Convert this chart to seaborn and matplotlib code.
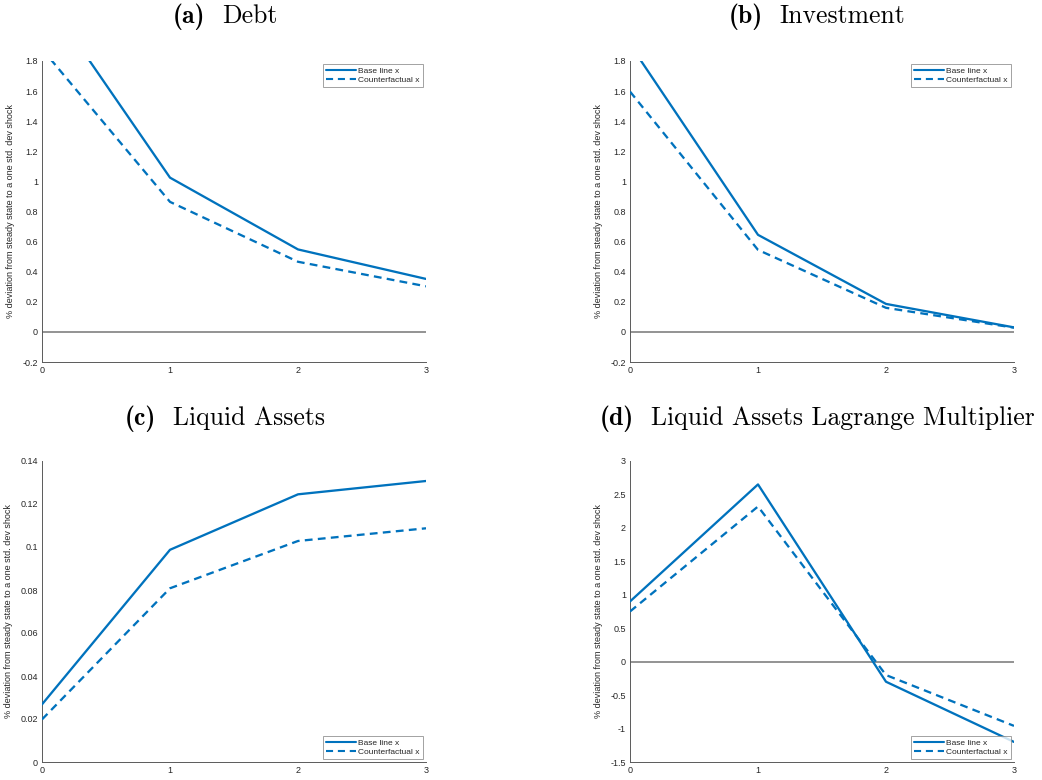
import numpy as np
import pandas as pd
import matplotlib
matplotlib.use("Agg")
import matplotlib.pyplot as plt
import seaborn as sns
from matplotlib.ticker import FuncFormatter, MultipleLocator
from matplotlib.lines import Line2D
from matplotlib.offsetbox import TextArea, HPacker, AnnotationBbox

# ---- data ----
periods = [0, 1, 2, 3]
series_names = ["Base line x", "Counterfactual x"]
titles_bold = ["(a)", "(b)", "(c)", "(d)"]
titles_text = ["Debt", "Investment", "Liquid Assets", "Liquid Assets Lagrange Multiplier"]

debt_base = [2.26, 1.025, 0.548, 0.352]
debt_cf = [1.88, 0.864, 0.466, 0.303]
inv_base = [1.91, 0.645, 0.186, 0.030]
inv_cf = [1.597, 0.545, 0.160, 0.028]
liq_base = [0.0268, 0.0987, 0.1245, 0.1307]
liq_cf = [0.0198, 0.0808, 0.1028, 0.1087]
lm_base = [0.90, 2.65, -0.30, -1.20]
lm_cf = [0.75, 2.32, -0.20, -0.96]

ylims = [(-0.2, 1.8), (-0.2, 1.8), (0.0, 0.14), (-1.5, 3.0)]
ysteps = [0.2, 0.2, 0.02, 0.5]
legend_locs = ["upper right", "upper right", "lower right", "lower right"]
ylabel = "% deviation from steady state to a one std. dev shock"

panels = [(debt_base, debt_cf), (inv_base, inv_cf), (liq_base, liq_cf), (lm_base, lm_cf)]

# ---- style ----
sns.set_theme(style="white")
plt.rcParams["font.family"] = ["Liberation Sans", "DejaVu Sans"]

blue = "#0072BD"
axis_col = "#5a5a5a"
text_col = "#262626"

fig = plt.figure(figsize=(10.42, 7.8), dpi=100)
W, H = 1042.0, 780.0
boxes = [(42, 61, 426, 362), (630, 61, 1014, 362), (42, 461, 426, 762), (630, 461, 1014, 762)]
title_y = [17, 17, 419, 419]
title_x = [225, 817, 225, 817]

for i, (base, cf) in enumerate(panels):
    l, t, r, b = boxes[i]
    ax = fig.add_axes([l / W, 1 - b / H, (r - l) / W, (b - t) / H])
    df = pd.DataFrame({
        "t": periods * 2,
        "v": list(base) + list(cf),
        "series": [series_names[0]] * 4 + [series_names[1]] * 4,
    })
    lo, hi = ylims[i]
    if lo < 0 < hi:
        ax.axhline(0, color="#8a8a8a", lw=1.3, zorder=1)
    sns.lineplot(data=df, x="t", y="v", style="series", color=blue, lw=1.65,
                 dashes={series_names[0]: "", series_names[1]: (3.4, 2.3)},
                 ax=ax, legend=False, zorder=3)
    ax.set_xlim(0, 3)
    ax.set_ylim(lo, hi)
    ax.xaxis.set_major_locator(MultipleLocator(1))
    ax.yaxis.set_major_locator(MultipleLocator(ysteps[i]))
    ax.yaxis.set_major_formatter(FuncFormatter(lambda v, p: f"{round(v, 6):g}"))
    ax.xaxis.set_major_formatter(FuncFormatter(lambda v, p: f"{round(v, 6):g}"))
    ax.set_xlabel("")
    ax.set_ylabel(ylabel, fontsize=6.5, color=text_col, labelpad=5)
    for s in ["top", "right"]:
        ax.spines[s].set_visible(False)
    for s in ["left", "bottom"]:
        ax.spines[s].set_color(axis_col)
        ax.spines[s].set_linewidth(0.7)
    ax.tick_params(direction="in", length=3, width=0.6, color=axis_col,
                   labelsize=6.5, labelcolor=text_col, pad=3)
    ax.set_facecolor("white")
    # legend
    handles = [Line2D([], [], color=blue, lw=1.5),
               Line2D([], [], color=blue, lw=1.5, dashes=(3.4, 2.3))]
    leg = ax.legend(handles, series_names, loc=legend_locs[i], fontsize=6,
                    frameon=True, fancybox=False, edgecolor="#8a8a8a",
                    handlelength=3.6, handletextpad=0.3, borderpad=0.35,
                    labelspacing=0.15, borderaxespad=0.4)
    leg.get_frame().set_linewidth(0.7)
    for txt in leg.get_texts():
        txt.set_color(text_col)
    # title: bold label + regular text, Computer Modern
    ta_b = TextArea(titles_bold[i], textprops=dict(family="cmb10", fontsize=18.5, color="black"))
    ta_r = TextArea(titles_text[i], textprops=dict(family="cmr10", fontsize=18.5, color="black"))
    pack = HPacker(children=[ta_b, ta_r], align="baseline", pad=0, sep=12)
    ab = AnnotationBbox(pack, (title_x[i] / W, 1 - title_y[i] / H), xycoords="figure fraction",
                        box_alignment=(0.5, 0.5), frameon=False, pad=0)
    fig.add_artist(ab)

fig.savefig("out.png", dpi=100, facecolor="white")
